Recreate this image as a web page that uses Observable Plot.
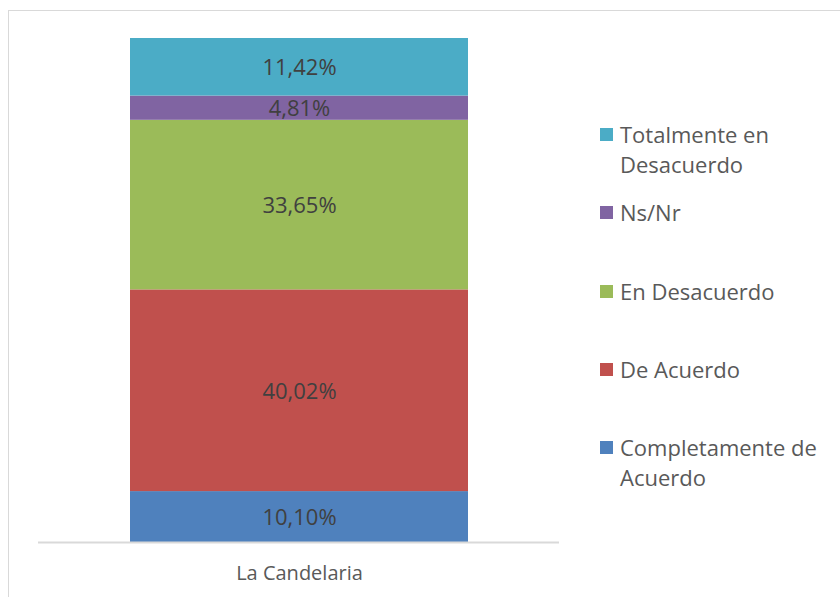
<!DOCTYPE html>
<html>
<head>
<meta charset="utf-8">
<script src="https://cdn.jsdelivr.net/npm/d3@7"></script>
<script src="https://cdn.jsdelivr.net/npm/@observablehq/plot@0.6"></script>
<style>
  html, body { margin: 0; padding: 0; background: #fff; }
  #wrap { position: relative; width: 840px; height: 597px; overflow: hidden; font-family: "Open Sans", sans-serif; }
  #border { position: absolute; left: 8px; top: 10px; width: 900px; height: 700px; border: 1.5px solid #d9d9d9; box-sizing: border-box; }
  #chart { position: absolute; left: 0; top: 0; }
  #legend { position: absolute; left: 0; top: 0; width: 840px; height: 597px; pointer-events: none; }
  .item { position: absolute; left: 600px; display: flex; align-items: flex-start; color: #595959; font-size: 22px; line-height: 30px; }
  .sw { width: 13px; height: 13px; margin-top: 9px; margin-right: 7px; flex: none; }
</style>
</head>
<body>
<div id="wrap">
  <div id="border"></div>
  <div id="chart"></div>
  <div id="legend"></div>
</div>
<script>
const categories = ["La Candelaria"];
const series = ["Completamente de Acuerdo", "De Acuerdo", "En Desacuerdo", "Ns/Nr", "Totalmente en Desacuerdo"];
const values = [10.10, 40.02, 33.65, 4.81, 11.42];
const colors = ["#4F81BD", "#C0504D", "#9BBB59", "#8064A2", "#4BACC6"];
const legendLines = {
  "Totalmente en Desacuerdo": ["Totalmente en", "Desacuerdo"],
  "Ns/Nr": ["Ns/Nr"],
  "En Desacuerdo": ["En Desacuerdo"],
  "De Acuerdo": ["De Acuerdo"],
  "Completamente de Acuerdo": ["Completamente de", "Acuerdo"]
};
const legendTops = [119, 197, 276, 354, 432];

const data = series.map((s, i) => ({cat: categories[0], series: s, value: values[i]}));
const fmt = v => d3.format(".2f")(v).replace(".", ",") + "%";

const plot = Plot.plot({
  width: 840,
  height: 597,
  marginLeft: 38,
  marginRight: 281,
  marginTop: 38,
  marginBottom: 55,
  style: {fontFamily: "'Open Sans', sans-serif", background: "transparent"},
  x: {domain: categories, padding: 0.213, label: null},
  y: {domain: [0, 100], axis: null},
  color: {domain: series, range: colors},
  marks: [
    Plot.barY(data, {x: "cat", y: "value", fill: "series", order: series}),
    Plot.text(data, Plot.stackY({x: "cat", y: "value", z: "series", order: series, text: d => fmt(d.value), fill: "#404040", fontSize: 22, dy: 1})),
    Plot.ruleY([0], {stroke: "#d9d9d9", strokeWidth: 2}),
    Plot.axisX({tickSize: 0, tickPadding: 23, fontSize: 20, color: "#595959", label: null})
  ]
});
document.getElementById("chart").appendChild(plot);

const legend = document.getElementById("legend");
const legendOrder = series.slice().reverse();
legendOrder.forEach((s, i) => {
  const item = document.createElement("div");
  item.className = "item";
  item.style.top = legendTops[i] + "px";
  const sw = document.createElement("div");
  sw.className = "sw";
  sw.style.background = colors[series.indexOf(s)];
  const txt = document.createElement("div");
  txt.innerHTML = legendLines[s].join("<br>");
  item.appendChild(sw);
  item.appendChild(txt);
  legend.appendChild(item);
});
</script>
</body>
</html>
